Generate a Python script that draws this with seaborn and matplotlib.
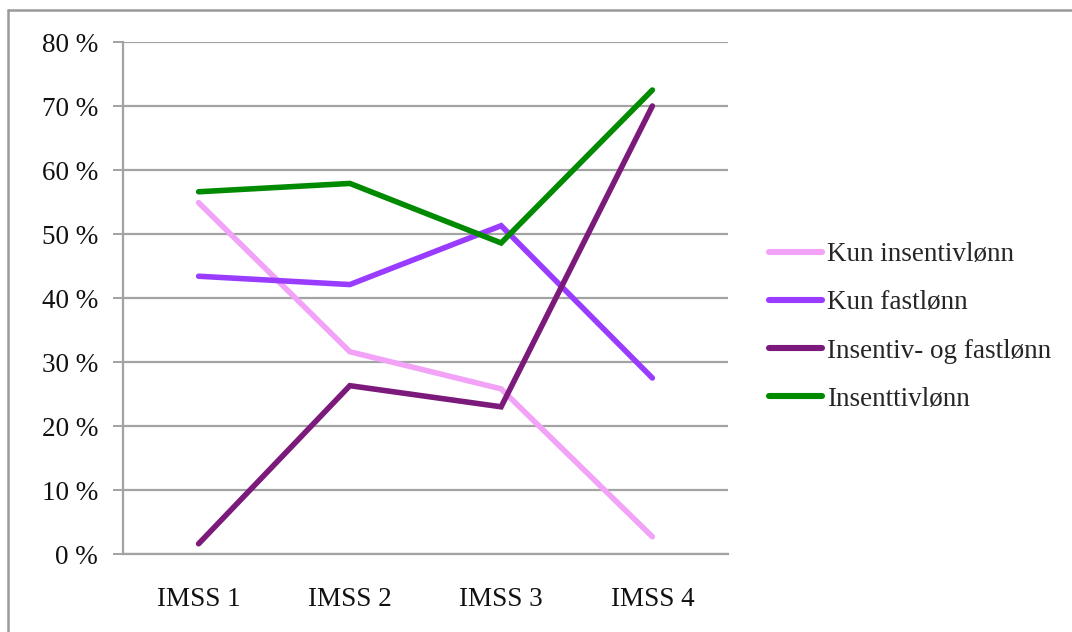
import matplotlib
matplotlib.use("Agg")
import matplotlib.pyplot as plt
from matplotlib.lines import Line2D
from matplotlib.ticker import FixedLocator, FuncFormatter
import pandas as pd
import seaborn as sns

# Survey rounds and the share of respondents per pay scheme
categories = ["IMSS 1", "IMSS 2", "IMSS 3", "IMSS 4"]
kun_insentivlonn = [0.549, 0.316, 0.258, 0.027]
kun_fastlonn = [0.434, 0.421, 0.513, 0.275]
insentiv_og_fastlonn = [0.016, 0.263, 0.230, 0.700]
insenttivlonn = [0.566, 0.579, 0.486, 0.725]

series_names = ["Kun insentivlønn", "Kun fastlønn", "Insentiv- og fastlønn", "Insenttivlønn"]
series_values = [kun_insentivlonn, kun_fastlonn, insentiv_og_fastlonn, insenttivlonn]
colors = ["#f2a2f7", "#9a3cff", "#7b1a7a", "#008a00"]
y_ticks = [0.0, 0.1, 0.2, 0.3, 0.4, 0.5, 0.6, 0.7, 0.8]

rows = []
for name, vals in zip(series_names, series_values):
    for cat, v in zip(categories, vals):
        rows.append({"IMSS": cat, "Andel": v, "Serie": name})
df = pd.DataFrame(rows)

sns.set_style("white")
plt.rcParams["font.family"] = ["Liberation Serif", "DejaVu Serif"]

fig = plt.figure(figsize=(10.72, 6.32), dpi=100)
ax = fig.add_axes([123 / 1072, 1 - 554 / 632, 605 / 1072, 512 / 632])

sns.lineplot(data=df, x="IMSS", y="Andel", hue="Serie", hue_order=series_names,
             palette=colors, sort=False, linewidth=4.0, ax=ax, legend=True)
for ln in ax.get_lines():
    ln.set_solid_capstyle("round")
    ln.set_solid_joinstyle("miter")

ax.set_xlim(-0.5, len(categories) - 0.5)
ax.set_ylim(0, 0.8)
ax.set_xlabel("")
ax.set_ylabel("")

grid_color = "#a3a3a3"
ax.yaxis.set_major_locator(FixedLocator(y_ticks))
ax.yaxis.set_major_formatter(FuncFormatter(lambda v, _: f"{round(v * 100)} %"))
ax.grid(axis="y", color=grid_color, linewidth=1.6)
ax.grid(axis="x", visible=False)
ax.set_axisbelow(True)

ax.set_xticks(range(len(categories)))
ax.set_xticklabels(categories)
ax.set_xticks([i - 0.5 for i in range(len(categories) + 1)], minor=True)
ax.tick_params(axis="x", which="major", length=0, pad=24, labelsize=19.5, labelcolor="#111111")
ax.tick_params(axis="x", which="minor", length=9, width=1.4, color=grid_color, direction="out")
ax.tick_params(axis="y", which="major", left=True, length=7, width=1.4, color=grid_color,
               direction="out", labelsize=19.5, labelcolor="#111111", pad=11)

for side in ["top", "right"]:
    ax.spines[side].set_visible(False)
for side in ["left", "bottom"]:
    ax.spines[side].set_color(grid_color)
    ax.spines[side].set_linewidth(1.6)

handles, labels = ax.get_legend_handles_labels()
ax.legend_.remove()
for h in handles:
    h.set_linewidth(4.4)
    h.set_solid_capstyle("round")
fig.legend(handles, labels, loc="center left", bbox_to_anchor=(758 / 1072, 1 - 327 / 632),
           frameon=False, fontsize=19.5, handlelength=1.95, handletextpad=0.2,
           labelspacing=0.85, borderaxespad=0)

# outer frame around the chart area
fig.add_artist(Line2D([8 / 1072, 8 / 1072], [0, 1 - 10 / 632], transform=fig.transFigure,
                      color="#9a9a9a", linewidth=1.8))
fig.add_artist(Line2D([8 / 1072, 1], [1 - 10 / 632, 1 - 10 / 632], transform=fig.transFigure,
                      color="#9a9a9a", linewidth=1.8))

fig.savefig("out.png", dpi=100)
